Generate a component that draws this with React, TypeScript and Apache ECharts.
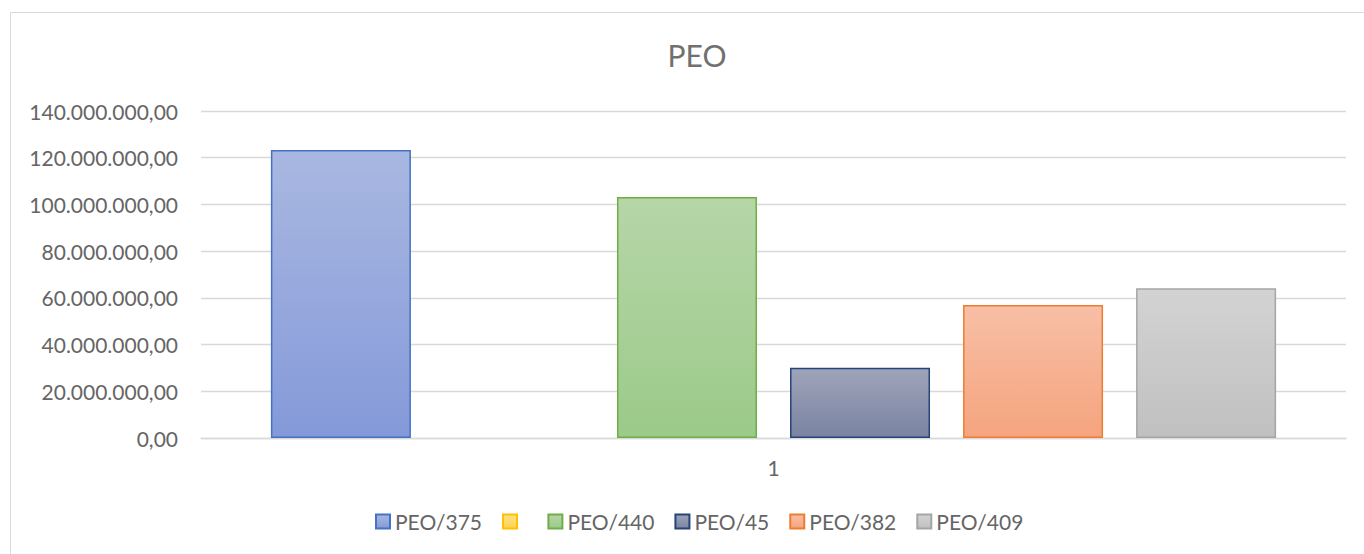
import React, { useEffect, useRef } from "react";
import * as echarts from "echarts";

const categories = ["1"];
const seriesNames = ["PEO/375", " ", "PEO/440", "PEO/45", "PEO/382", "PEO/409"];
const seriesValues: (number | string)[] = [123300000, "-", 103200000, 30100000, 56900000, 64100000];
const topColors = ["#A9B8E1", "#FFE08A", "#B6D6A8", "#9EA4B9", "#F8BFA6", "#D3D3D3"];
const bottomColors = ["#8499D9", "#FFD24D", "#9BCA89", "#7A84A2", "#F5A47E", "#C0C0C0"];
const borderColors = ["#4472C4", "#FFC000", "#70AD47", "#264478", "#ED7D31", "#A5A5A5"];
const yTicks = { min: 0, max: 140000000, interval: 20000000 };

function fmt(v: number): string {
  const s = Math.round(v).toString().replace(/\B(?=(\d{3})+(?!\d))/g, ".");
  return s + ",00";
}

export default function App() {
  const ref = useRef<HTMLDivElement>(null);
  useEffect(() => {
    document.body.style.margin = "0";
    const chart = echarts.init(ref.current!, null, { renderer: "svg" });
    const font = "Lato";
    const txt = "#656565";
    chart.setOption({
      animation: false,
      backgroundColor: "#ffffff",
      title: {
        text: "PEO",
        left: 692,
        textAlign: "center",
        top: 35,
        textStyle: { fontFamily: font, fontSize: 30, fontWeight: "normal", color: "#707070" },
      },
      graphic: [
        {
          type: "rect",
          shape: { x: 10.5, y: 12.5, width: 1380, height: 560 },
          style: { fill: "none", stroke: "#D9D9D9", lineWidth: 1 },
          silent: true,
        },
      ],
      legend: {
        bottom: 17,
        left: 370,
        itemWidth: 14,
        itemHeight: 14,
        itemGap: 20,
        icon: "rect",
        textStyle: { fontFamily: font, fontSize: 21, color: txt },
        data: seriesNames,
      },
      grid: { left: 201, right: 18, top: 111, bottom: 116 },
      xAxis: {
        type: "category",
        data: categories,
        axisLine: { lineStyle: { color: "#D9D9D9", width: 1.3 } },
        axisTick: { show: false },
        axisLabel: { fontFamily: font, fontSize: 21, color: txt, margin: 19 },
      },
      yAxis: {
        type: "value",
        min: yTicks.min,
        max: yTicks.max,
        interval: yTicks.interval,
        axisLine: { show: false },
        axisTick: { show: false },
        splitLine: { lineStyle: { color: "#D9D9D9", width: 1.3 } },
        axisLabel: {
          fontFamily: font,
          fontSize: 21,
          color: txt,
          margin: 23,
          formatter: (v: number) => fmt(v),
        },
      },
      series: seriesNames.map((name, i) => ({
        name,
        type: "bar",
        barWidth: 140,
        barGap: "23.6%",
        data: [seriesValues[i]],
        itemStyle: {
          color: new echarts.graphic.LinearGradient(0, 0, 0, 1, [
            { offset: 0, color: topColors[i] },
            { offset: 1, color: bottomColors[i] },
          ]),
          borderColor: borderColors[i],
          borderWidth: 1.5,
        },
      })),
    });
    return () => chart.dispose();
  }, []);
  return <div ref={ref} style={{ width: 1364, height: 554 }} />;
}
